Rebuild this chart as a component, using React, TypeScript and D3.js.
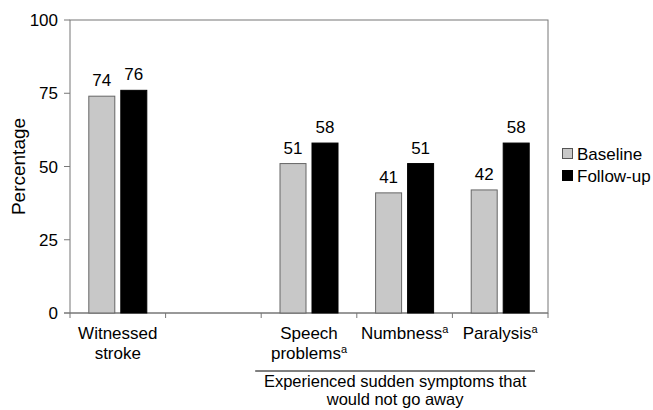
import React from "react";
import * as d3 from "d3";

const categories = ["Witnessed stroke", "", "Speech problems", "Numbness", "Paralysis"];
const catLines: string[][] = [["Witnessed", "stroke"], [], ["Speech", "problems"], ["Numbness"], ["Paralysis"]];
const catSup: boolean[][] = [[false, false], [], [false, true], [true], [true]];
const baseline: (number | null)[] = [74, null, 51, 41, 42];
const followUp: (number | null)[] = [76, null, 58, 51, 58];
const yTicks = [0, 25, 50, 75, 100];
const seriesNames = ["Baseline", "Follow-up"];
const seriesColors = ["#c8c8c8", "#000000"];

const W = 653, H = 410;
const m = { left: 70, right: 105, top: 20, bottom: 97 };
const FONT = "Liberation Sans, Arial, sans-serif";
const FS = 17;

export default function App() {
  const x = d3.scaleBand<string>().domain(categories.map((c, i) => String(i))).range([m.left, W - m.right]);
  const y = d3.scaleLinear().domain([0, 100]).range([H - m.bottom, m.top]);
  const bw = 26, gap = 6;
  const series = [baseline, followUp];
  const y0 = y(0);
  const bracketStart = x("2")! - 6;
  const bracketEnd = W - m.right - 13;
  const bracketMid = (bracketStart + bracketEnd) / 2;
  return (
    <svg width={W} height={H} style={{ position: "absolute", left: 0, top: 0, background: "#fff" }} fontFamily={FONT}>
      <rect x={m.left} y={m.top} width={W - m.left - m.right} height={y0 - m.top} fill="none" stroke="#777" strokeWidth={1} />
      {yTicks.map((t) => (
        <g key={t}>
          <line x1={m.left - 6} x2={m.left} y1={y(t)} y2={y(t)} stroke="#777" />
          <text x={m.left - 12} y={y(t)} dy="0.36em" textAnchor="end" fontSize={FS}>{t}</text>
        </g>
      ))}
      {categories.map((c, i) => {
        const x0 = x(String(i))!;
        return <line key={i} x1={x0} x2={x0} y1={y0} y2={y0 + 5} stroke="#777" />;
      })}
      <line x1={W - m.right} x2={W - m.right} y1={y0} y2={y0 + 5} stroke="#777" />
      <line x1={m.left - 6} x2={W - m.right} y1={y0} y2={y0} stroke="#777" />
      {categories.map((c, i) => {
        const cx = x(String(i))! + x.bandwidth() / 2;
        return (
          <g key={i}>
            {series.map((s, si) => {
              const v = s[i];
              if (v == null) return null;
              const bx = si === 0 ? cx - gap / 2 - bw : cx + gap / 2;
              return (
                <g key={si}>
                  <rect x={bx} y={y(v)} width={bw} height={y0 - y(v)} fill={seriesColors[si]} stroke={si === 0 ? "#666" : "#000"} strokeWidth={1} />
                  <text x={bx + bw / 2} y={y(v) - 10} textAnchor="middle" fontSize={FS}>{v}</text>
                </g>
              );
            })}
            {catLines[i].map((ln, li) => (
              <text key={li} x={cx} y={339 + li * 20} textAnchor="middle" fontSize={FS}>
                {ln}
                {catSup[i][li] ? <tspan fontSize={11} dy={-6}>a</tspan> : null}
              </text>
            ))}
          </g>
        );
      })}
      <line x1={bracketStart} x2={bracketEnd} y1={371} y2={371} stroke="#000" />
      <text x={bracketMid} y={387} textAnchor="middle" fontSize={16.5}>Experienced sudden symptoms that</text>
      <text x={bracketMid} y={405} textAnchor="middle" fontSize={16.5}>would not go away</text>
      <text transform={`translate(25,${(m.top + y0) / 2}) rotate(-90)`} textAnchor="middle" fontSize={19}>Percentage</text>
      {seriesNames.map((n, i) => (
        <g key={n}>
          <rect x={562.5} y={148.5 + i * 22} width={10} height={10} fill={seriesColors[i]} stroke={i === 0 ? "#555" : "#000"} />
          <text x={577} y={154 + i * 22} dy="0.36em" fontSize={FS}>{n}</text>
        </g>
      ))}
    </svg>
  );
}
